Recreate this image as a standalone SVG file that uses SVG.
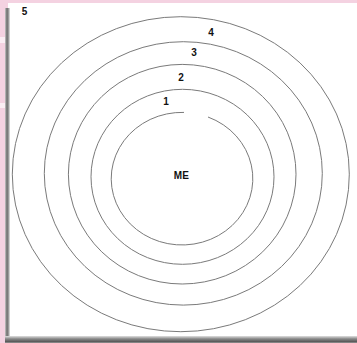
<svg xmlns="http://www.w3.org/2000/svg" width="357" height="343" viewBox="0 0 357 343">
<defs>
<linearGradient id="lsh" x1="0" y1="0" x2="1" y2="0">
<stop offset="0" stop-color="#c8c8c8"/>
<stop offset="0.4" stop-color="#6a6a6a"/>
<stop offset="0.7" stop-color="#9a9a9a"/>
<stop offset="1" stop-color="#e8e8e8"/>
</linearGradient>
<linearGradient id="bsh" x1="0" y1="0" x2="0" y2="1">
<stop offset="0" stop-color="#e0e0e0"/>
<stop offset="0.4" stop-color="#8a8a8a"/>
<stop offset="0.8" stop-color="#5a5a5a"/>
<stop offset="1" stop-color="#9a9a9a"/>
</linearGradient>
</defs>
<style>
.ring{fill:none;stroke:#7a7a7a;stroke-width:1}
.lbl{font-family:"Liberation Sans",Arial,sans-serif;font-weight:bold;font-size:10px;fill:#111;text-anchor:middle}
</style>
<rect x="0" y="0" width="357" height="343" fill="#f4d2e1"/>
<rect x="0" y="37" width="8" height="6" fill="#fbeef4"/>
<rect x="0" y="103" width="8" height="5" fill="#fbeef4"/>
<rect x="8" y="3" width="349" height="336" fill="#ffffff"/>
<rect x="5" y="8" width="5" height="331" fill="url(#lsh)"/>
<rect x="5" y="336" width="352" height="7" fill="url(#bsh)"/>
<g id="connectors"></g>
<g id="ring5"><ellipse class="ring" cx="180.8" cy="174.2" rx="168.5" ry="157.5"/><text class="lbl" x="24.5" y="15">5</text></g>
<g id="ring4"><ellipse class="ring" cx="183.3" cy="173.4" rx="139" ry="131.7"/><text class="lbl" x="211" y="36">4</text></g>
<g id="ring3"><ellipse class="ring" cx="182.2" cy="174.2" rx="113.8" ry="109.8"/><text class="lbl" x="194" y="56">3</text></g>
<g id="ring2"><ellipse class="ring" cx="182.5" cy="176.8" rx="91.5" ry="87.5"/><text class="lbl" x="181" y="81">2</text></g>
<g id="ring1"><path class="ring" d="M208,117 A70.8,66.3 0 1 1 184,112.4"/><text class="lbl" x="166" y="104.5">1</text></g>
<g id="me"><text class="lbl" x="181.3" y="178.5">ME</text></g>
</svg>
